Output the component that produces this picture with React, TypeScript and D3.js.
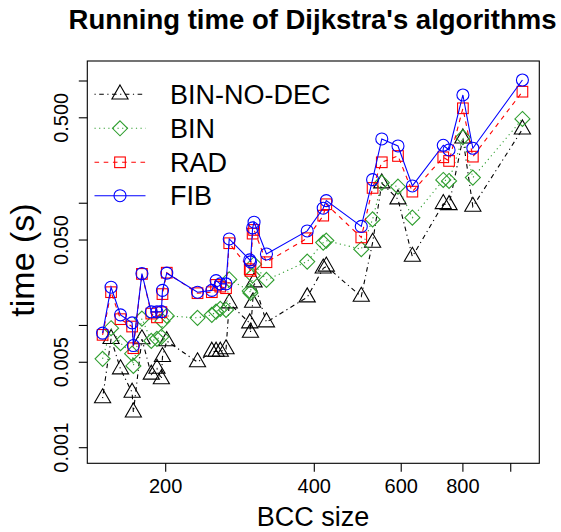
import React from 'react';
import * as d3 from 'd3';

// BCC size (x, log scale)
const bccSize = [149, 155, 162, 171, 172, 179, 187, 192, 196, 197, 201, 232, 248, 253, 258, 265, 269, 296, 297, 300, 302, 320, 387, 417, 423, 498, 525, 548, 591, 632, 730, 750, 800, 838, 1056];

// running times (s)
const timeBinNoDec = [0.002543, 0.00777, 0.00439, 0.002827, 0.001948, 0.00774, 0.00397, 0.00444, 0.00364, 0.00554, 0.00746, 0.00501, 0.00612, 0.00612, 0.00612, 0.0064, 0.01522, 0.01044, 0.00875, 0.01539, 0.0226, 0.01064, 0.01703, 0.0293, 0.03041, 0.01723, 0.04762, 0.1457, 0.1078, 0.0366, 0.0987, 0.0968, 0.34, 0.0938, 0.4027];
const timeBin = [0.00533, 0.0095, 0.00717, 0.00588, 0.00467, 0.01138, 0.00748, 0.00777, 0.00807, 0.01084, 0.01198, 0.01154, 0.01221, 0.01299, 0.01367, 0.01341, 0.02382, 0.01918, 0.01847, 0.02559, 0.03171, 0.0236, 0.0333, 0.04762, 0.04945, 0.04206, 0.07372, 0.1474, 0.1367, 0.0762, 0.1551, 0.1522, 0.3465, 0.162, 0.489];
const timeRad = [0.00838, 0.01872, 0.01126, 0.0098, 0.00652, 0.02642, 0.01251, 0.01165, 0.01285, 0.01806, 0.02702, 0.01837, 0.01872, 0.02148, 0.02079, 0.02018, 0.04709, 0.02886, 0.02795, 0.05641, 0.06047, 0.03293, 0.05172, 0.07917, 0.0981, 0.05252, 0.1334, 0.2163, 0.2436, 0.1244, 0.2377, 0.2218, 0.598, 0.2405, 0.8176];
const timeFib = [0.00865, 0.02056, 0.01221, 0.0105, 0.00685, 0.02657, 0.01292, 0.01292, 0.01299, 0.01936, 0.02678, 0.01872, 0.01936, 0.02329, 0.02189, 0.02189, 0.05105, 0.03439, 0.03311, 0.06281, 0.06992, 0.03848, 0.05934, 0.09103, 0.105, 0.06461, 0.156, 0.3355, 0.2941, 0.1385, 0.298, 0.2728, 0.7684, 0.2817, 1.019];

const seriesNames = ['BIN-NO-DEC', 'BIN', 'RAD', 'FIB'];
const seriesColors = ['#000000', '#2f9e2f', '#ff0000', '#0000ff'];
const seriesDash = ['1.2 3.5 4.6 3.5', '1.2 3.4', '4.6 4.6', ''];
const seriesShapes = ['triangle', 'diamond', 'square', 'circle'];

const xTickValues = [200, 400, 600, 800, 1000];
const xTickLabels = ['200', '400', '600', '800', ''];
const yTickValues = [1, 0.5, 0.1, 0.05, 0.01, 0.005, 0.001];
const yTickLabels = ['', '0.500', '', '0.050', '', '0.005', '0.001'];

const FONT = "'Liberation Sans', Arial, Helvetica, sans-serif";
const R0 = 6;

function Marker({ shape, cx, cy, color }: { shape: string; cx: number; cy: number; color: string }) {
  const common = { fill: 'none', stroke: color, strokeWidth: 1.1 };
  if (shape === 'circle') return <circle cx={cx} cy={cy} r={R0} {...common} />;
  if (shape === 'square') {
    const h = R0 * 0.8862;
    return <rect x={cx - h} y={cy - h} width={2 * h} height={2 * h} {...common} />;
  }
  if (shape === 'diamond') {
    const d = R0 * 1.2533;
    return <path d={`M${cx},${cy - d}L${cx + d},${cy}L${cx},${cy + d}L${cx - d},${cy}Z`} {...common} />;
  }
  const r = R0 * 1.5551;
  const xc = R0 * 1.3468;
  const yc = R0 * 0.7776;
  return <path d={`M${cx},${cy - r}L${cx + xc},${cy + yc}L${cx - xc},${cy + yc}Z`} {...common} />;
}

export default function App() {
  const W = 561, H = 532;
  const left = 87.3, right = 539.3, top = 61, bottom = 463.3;
  const x = d3.scaleLog().domain([200, 800]).range([165.7, 462.9]);
  const y = d3.scaleLog().domain([0.001, 1]).range([447.7, 81]);
  const series = [timeBinNoDec, timeBin, timeRad, timeFib];
  const line = d3.line<[number, number]>().x(d => x(d[0])).y(d => y(d[1]));
  const legendRows = [94.3, 128.3, 162.3, 195.7];

  return (
    <svg width={W} height={H} style={{ position: 'absolute', left: 0, top: 0, background: '#fff' }} fontFamily={FONT}>
      <rect x={0} y={0} width={W} height={H} fill="#fff" />
      <text x={312.5} y={28.5} textAnchor="middle" fontSize={27.5} fontWeight="bold">Running time of Dijkstra's algorithms</text>

      {series.map((vals, si) => (
        <g key={si}>
          <path d={line(bccSize.map((b, i) => [b, vals[i]] as [number, number])) || ''} fill="none"
            stroke={seriesColors[si]} strokeWidth={1.1} strokeDasharray={seriesDash[si] || undefined} />
          {bccSize.map((b, i) => (
            <Marker key={i} shape={seriesShapes[si]} cx={x(b)} cy={y(vals[i])} color={seriesColors[si]} />
          ))}
        </g>
      ))}

      <rect x={left} y={top} width={right - left} height={bottom - top} fill="none" stroke="#000" strokeWidth={1.1} />

      {xTickValues.map((v, i) => (
        <g key={i}>
          <line x1={x(v)} x2={x(v)} y1={bottom} y2={bottom + 8.5} stroke="#000" strokeWidth={1.1} />
          <text x={x(v)} y={492.7} textAnchor="middle" fontSize={20}>{xTickLabels[i]}</text>
        </g>
      ))}
      {yTickValues.map((v, i) => (
        <g key={i}>
          <line x1={left - 8.5} x2={left} y1={y(v)} y2={y(v)} stroke="#000" strokeWidth={1.1} />
          <text transform={`translate(68,${y(v)}) rotate(-90)`} textAnchor="middle" fontSize={20}>{yTickLabels[i]}</text>
        </g>
      ))}

      <text x={313} y={526} textAnchor="middle" fontSize={27}>BCC size</text>
      <text transform="translate(33.5,260) rotate(-90)" textAnchor="middle" fontSize={34}>time (s)</text>

      {seriesNames.map((name, si) => (
        <g key={name}>
          <line x1={94.5} x2={145.5} y1={legendRows[si]} y2={legendRows[si]} stroke={seriesColors[si]} strokeWidth={1.1}
            strokeDasharray={seriesDash[si] || undefined} />
          <Marker shape={seriesShapes[si]} cx={120} cy={legendRows[si]} color={seriesColors[si]} />
          <text x={170} y={legendRows[si] + 9.5} fontSize={27}>{name}</text>
        </g>
      ))}
    </svg>
  );
}
